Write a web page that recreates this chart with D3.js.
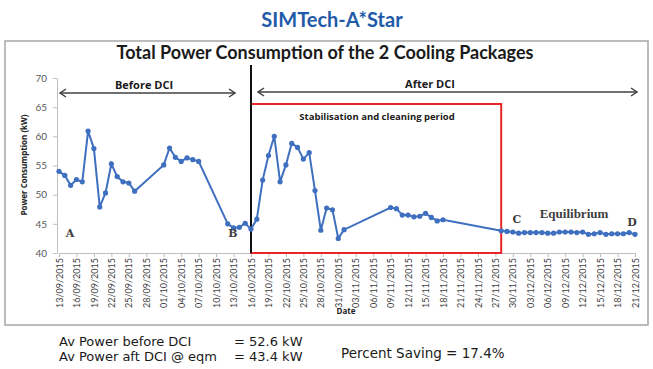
<!DOCTYPE html>
<html lang="en">
<head>
    <meta charset="UTF-8">
    <title>Total Power Consumption of the 2 Cooling Packages</title>
    <script src="https://d3js.org/d3.v7.min.js"></script>
    <style>
        body { margin: 0; background: #fff; }
        svg { display: block; }
    </style>
</head>
<body>
    <div id="chart"></div>

    <script>
        // daily readings (kW)
        const dates = [
            "13/09/2015", "14/09/2015", "15/09/2015", "16/09/2015", "17/09/2015", "18/09/2015", "19/09/2015",
            "20/09/2015", "21/09/2015", "22/09/2015", "23/09/2015", "24/09/2015", "25/09/2015", "26/09/2015",
            "01/10/2015", "02/10/2015", "03/10/2015", "04/10/2015", "05/10/2015", "06/10/2015", "07/10/2015",
            "12/10/2015", "13/10/2015", "14/10/2015", "15/10/2015", "16/10/2015",
            "17/10/2015", "18/10/2015", "19/10/2015", "20/10/2015", "21/10/2015", "22/10/2015", "23/10/2015",
            "24/10/2015", "25/10/2015", "26/10/2015", "27/10/2015", "28/10/2015", "29/10/2015", "30/10/2015",
            "31/10/2015", "01/11/2015",
            "09/11/2015", "10/11/2015", "11/11/2015", "12/11/2015", "13/11/2015", "14/11/2015", "15/11/2015",
            "16/11/2015", "17/11/2015", "18/11/2015",
            "28/11/2015", "29/11/2015", "30/11/2015", "01/12/2015", "02/12/2015", "03/12/2015", "04/12/2015",
            "05/12/2015", "06/12/2015", "07/12/2015", "08/12/2015", "09/12/2015", "10/12/2015", "11/12/2015",
            "12/12/2015", "13/12/2015", "14/12/2015", "15/12/2015", "16/12/2015", "17/12/2015", "18/12/2015",
            "19/12/2015", "20/12/2015", "21/12/2015"
        ];
        const power = [
            54.0, 53.3, 51.6, 52.6, 52.2, 60.9, 57.9,
            47.9, 50.3, 55.3, 53.1, 52.2, 52.0, 50.6,
            55.1, 58.0, 56.4, 55.7, 56.3, 56.0, 55.7,
            45.0, 44.3, 44.4, 45.1, 44.1,
            45.8, 52.5, 56.7, 60.0, 52.2, 55.1, 58.8,
            58.1, 56.1, 57.2, 50.7, 43.9, 47.7, 47.4,
            42.5, 44.0,
            47.8, 47.6, 46.5, 46.5, 46.2, 46.3, 46.8,
            46.1, 45.5, 45.7,
            43.8, 43.7, 43.6, 43.4, 43.5, 43.5, 43.5,
            43.5, 43.4, 43.4, 43.6, 43.6, 43.6, 43.5,
            43.6, 43.2, 43.3, 43.5, 43.2, 43.3, 43.3,
            43.3, 43.5, 43.2
        ];
        const yTicks = [40, 45, 50, 55, 60, 65, 70];
        const xStart = "13/09/2015", xEnd = "21/12/2015", tickStep = 3;
        const dciDate = "16/10/2015";
        const stabilisation = ["16/10/2015", "28/11/2015"];
        const summaryLines = ["Av Power before DCI", "Av Power aft DCI @ eqm"];
        const summaryValues = ["= 52.6 kW", "= 43.4 kW"];

        const parse = d3.timeParse("%d/%m/%Y");
        const fmt = d3.timeFormat("%d/%m/%Y");

        const W = 653, H = 369;
        const svg = d3.select("#chart").append("svg")
            .attr("width", W)
            .attr("height", H);

        const x = d3.scaleTime()
            .domain([parse(xStart), parse(xEnd)])
            .range([59, 635]);
        const y = d3.scaleLinear()
            .domain([40, 70])
            .range([253, 78]);

        // header
        svg.append("text")
            .attr("x", 332).attr("y", 27)
            .attr("text-anchor", "middle")
            .style("font", "bold 20px Lato, 'Open Sans', sans-serif")
            .style("fill", "#1f5ba8")
            .text("SIMTech-A*Star");

        // chart frame
        svg.append("rect")
            .attr("x", 5).attr("y", 41)
            .attr("width", 643).attr("height", 284)
            .attr("fill", "#fff")
            .attr("stroke", "#a6a6a6")
            .attr("stroke-width", 1.5);

        svg.append("text")
            .attr("x", 325).attr("y", 59)
            .attr("text-anchor", "middle")
            .style("font", "bold 18px Lato, 'Open Sans', sans-serif")
            .style("fill", "#1a1a1a")
            .text("Total Power Consumption of the 2 Cooling Packages");

        // axes
        const xTicks = d3.range(0, 34).map(i => d3.timeDay.offset(parse(xStart), i * tickStep));

        const xAxis = svg.append("g")
            .attr("transform", `translate(0,${y(40)})`)
            .call(d3.axisBottom(x).tickValues(xTicks).tickFormat(fmt).tickSize(4).tickSizeOuter(0));
        xAxis.select(".domain").attr("stroke", "#bfbfbf");
        xAxis.selectAll(".tick line").attr("stroke", "#bfbfbf");
        xAxis.selectAll("text")
            .attr("transform", "rotate(-90)")
            .attr("x", -5).attr("y", 0).attr("dy", "0.35em")
            .style("text-anchor", "end")
            .style("font", "9px Lato, 'Open Sans', sans-serif")
            .style("fill", "#404040");

        const yAxis = svg.append("g")
            .attr("transform", `translate(${x(parse(xStart)) - 2},0)`)
            .call(d3.axisLeft(y).tickValues(yTicks).tickSize(4).tickSizeOuter(0).tickPadding(6));
        yAxis.select(".domain").attr("stroke", "#bfbfbf");
        yAxis.selectAll(".tick line").attr("stroke", "#bfbfbf");
        yAxis.selectAll("text")
            .style("font", "10px Lato, 'Open Sans', sans-serif")
            .style("fill", "#595959");

        svg.append("text")
            .attr("transform", "translate(27,165) rotate(-90)")
            .attr("text-anchor", "middle")
            .style("font", "bold 8px 'Open Sans', sans-serif")
            .style("fill", "#222")
            .text("Power Consumption (kW)");

        svg.append("text")
            .attr("x", 346).attr("y", 314)
            .attr("text-anchor", "middle")
            .style("font", "bold 8px 'Open Sans', sans-serif")
            .style("fill", "#222")
            .text("Date");

        // red stabilisation box
        svg.append("rect")
            .attr("x", x(parse(stabilisation[0])))
            .attr("y", 104)
            .attr("width", x(parse(stabilisation[1])) - x(parse(stabilisation[0])))
            .attr("height", y(40) - 104)
            .attr("fill", "none")
            .attr("stroke", "#e8262a")
            .attr("stroke-width", 2);

        svg.append("text")
            .attr("x", 377).attr("y", 120)
            .attr("text-anchor", "middle")
            .style("font", "bold 9.5px 'Open Sans', sans-serif")
            .style("fill", "#1a1a1a")
            .text("Stabilisation and cleaning period");

        // DCI divider
        svg.append("line")
            .attr("x1", x(parse(dciDate))).attr("x2", x(parse(dciDate)))
            .attr("y1", 65).attr("y2", y(40))
            .attr("stroke", "#111")
            .attr("stroke-width", 2);

        // arrows
        function chevron(px, py, dir) {
            svg.append("path")
                .attr("d", `M${px - dir * 6},${py - 4}L${px},${py}L${px - dir * 6},${py + 4}`)
                .attr("fill", "none")
                .attr("stroke", "#404040")
                .attr("stroke-width", 1.5);
        }
        function arrow(x1, x2, ay) {
            svg.append("line")
                .attr("x1", x1).attr("x2", x2)
                .attr("y1", ay).attr("y2", ay)
                .attr("stroke", "#404040")
                .attr("stroke-width", 1.5);
            chevron(x2, ay, 1);
            chevron(x1, ay, -1);
        }
        arrow(60, 235, 93);
        arrow(258, 637, 92);

        svg.append("text")
            .attr("x", 144).attr("y", 89)
            .attr("text-anchor", "middle")
            .style("font", "bold 11px 'Open Sans', sans-serif")
            .style("fill", "#1a1a1a")
            .text("Before DCI");
        svg.append("text")
            .attr("x", 430).attr("y", 88)
            .attr("text-anchor", "middle")
            .style("font", "bold 11px 'Open Sans', sans-serif")
            .style("fill", "#1a1a1a")
            .text("After DCI");

        // series
        const points = dates.map((d, i) => ({ date: parse(d), value: power[i] }));

        const line = d3.line()
            .x(d => x(d.date))
            .y(d => y(d.value));

        svg.append("path")
            .datum(points)
            .attr("d", line)
            .attr("fill", "none")
            .attr("stroke", "#3f6fbf")
            .attr("stroke-width", 2);

        svg.append("g")
            .selectAll("circle")
            .data(points)
            .enter().append("circle")
            .attr("cx", d => x(d.date))
            .attr("cy", d => y(d.value))
            .attr("r", 2.6)
            .attr("fill", "#3f6fbf");

        // annotations
        const serif = "bold 11px 'DejaVu Serif', 'Liberation Serif', serif";
        [["A", 70, 237], ["B", 233, 237], ["C", 517, 223], ["D", 632, 226]].forEach(([t, tx, ty]) => {
            svg.append("text")
                .attr("x", tx).attr("y", ty)
                .attr("text-anchor", "middle")
                .style("font", serif)
                .style("fill", "#404040")
                .text(t);
        });
        svg.append("text")
            .attr("x", 574).attr("y", 218)
            .attr("text-anchor", "middle")
            .style("font", "bold 13px 'Liberation Serif', serif")
            .style("fill", "#404040")
            .text("Equilibrium");

        // summary below chart
        const sumFont = "13px 'DejaVu Sans', Verdana, sans-serif";
        summaryLines.forEach((t, i) => {
            svg.append("text")
                .attr("x", 59).attr("y", 346 + i * 15)
                .style("font", sumFont)
                .style("fill", "#1a1a1a")
                .text(t);
            svg.append("text")
                .attr("x", 234).attr("y", 346 + i * 15)
                .style("font", sumFont)
                .style("fill", "#1a1a1a")
                .text(summaryValues[i]);
        });
        svg.append("text")
            .attr("x", 341).attr("y", 358)
            .style("font", "13.5px 'DejaVu Sans', Verdana, sans-serif")
            .style("fill", "#1a1a1a")
            .text("Percent Saving = 17.4%");
    </script>
</body>
</html>
